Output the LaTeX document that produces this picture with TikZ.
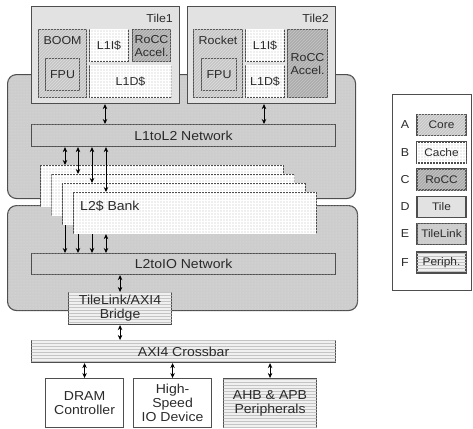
\documentclass[tikz,border=0pt]{standalone}
\usepackage{fontspec}
\setmainfont{Liberation Sans}[FakeStretch=1.08]
\usetikzlibrary{arrows.meta,patterns}

\definecolor{edge}{HTML}{4E4E4E}
\definecolor{txt}{HTML}{2B2B2B}
\definecolor{tilefill}{HTML}{E2E2E2}
\definecolor{corefill}{HTML}{C6C6C6}
\definecolor{corehatch}{HTML}{DEDEDE}
\definecolor{roccfill}{HTML}{ABABAB}
\definecolor{rocchatch}{HTML}{C8C8C8}
\definecolor{cachefill}{HTML}{EFEFEF}
\definecolor{tlfill}{HTML}{CDCDCD}
\definecolor{tldots}{HTML}{E2E2E2}
\definecolor{perfill}{HTML}{F0F0F0}
\definecolor{perlines}{HTML}{C4C4C4}

\tikzset{
  blk/.style={draw=edge, line width=1.1pt, inner sep=0pt, anchor=north west,
    text=txt, align=center, font=\fontsize{11.5}{13}\selectfont},
  big/.style={font=\fontsize{13}{14}\selectfont},
  tilebox/.style={blk, fill=tilefill},
  corebox/.style={blk, fill=corefill, postaction={pattern=north east lines, pattern color=corehatch}},
  roccbox/.style={blk, fill=roccfill, postaction={pattern=north east lines, pattern color=rocchatch}},
  cachebox/.style={blk, fill=cachefill, postaction={pattern=grid, pattern color=white}},
  tlbox/.style={blk, big, fill=tlfill, postaction={pattern=dots, pattern color=tldots}},
  region/.style={tlbox, rounded corners=9pt},
  perbox/.style={blk, big, fill=perfill, postaction={pattern=horizontal lines, pattern color=perlines}},
  plainbox/.style={blk, big, fill=white},
  lbl/.style={inner sep=0pt, text=txt, font=\fontsize{11.5}{13}\selectfont},
  link/.style={draw=black, line width=0.9pt, {Stealth[length=5pt,width=4.5pt]}-{Stealth[length=5pt,width=4.5pt]}},
  downlink/.style={draw=black, line width=0.9pt, -{Stealth[length=5pt,width=4.5pt]}},
  legbox/.style={draw=edge, line width=1.1pt, inner sep=0pt, minimum width=49, minimum height=21,
    text=txt, font=\fontsize{11}{12}\selectfont},
  legkey/.style={inner sep=0pt, text=txt, font=\fontsize{11.5}{13}\selectfont},
}

\begin{document}
\begin{tikzpicture}[x=1pt, y=-1pt]
\useasboundingbox (0,0) rectangle (473,428);

% TileLink domains
\node[region, minimum width=348, minimum height=124] (upper) at (7,74) {};
\node[region, minimum width=350, minimum height=105] (lower) at (7,205) {};

% tiles
\node[tilebox, minimum width=148, minimum height=97] (tile1) at (31,6) {};
\node[tilebox, minimum width=148, minimum height=97] (tile2) at (187,6) {};
\node[lbl, anchor=base east] at ([shift={(-7,16.5)}]tile1.north east) {Tile1};
\node[lbl, anchor=base east] at ([shift={(-7,16.5)}]tile2.north east) {Tile2};

% Tile1 contents
\node[corebox, minimum width=48, minimum height=68] (boom) at (38,29) {};
\node[lbl, anchor=base] at ([shift={(0,16)}]boom.north) {BOOM};
\node[corebox, minimum width=34, minimum height=32] (fpu1) at (45,58) {FPU};
\node[cachebox, minimum width=39, minimum height=32] (l1i1) at (89,29) {L1I\$};
\node[roccbox, minimum width=38, minimum height=32] (rocc1) at (132,29) {RoCC\\Accel.};
\node[cachebox, minimum width=82, minimum height=32] (l1d1) at (89,65) {L1D\$};

% Tile2 contents
\node[corebox, minimum width=49, minimum height=68] (rocket) at (193,29) {};
\node[lbl, anchor=base] at ([shift={(0,16)}]rocket.north) {Rocket};
\node[corebox, minimum width=35, minimum height=32] (fpu2) at (201,58) {FPU};
\node[cachebox, minimum width=39, minimum height=32] (l1i2) at (245,29) {L1I\$};
\node[cachebox, minimum width=39, minimum height=32] (l1d2) at (245,65) {L1D\$};
\node[roccbox, minimum width=40, minimum height=68] (rocc2) at (287,29) {RoCC\\Accel.};

% on-chip networks
\node[tlbox, minimum width=304, minimum height=22] (l1l2) at (31,124) {L1toL2 Network};
\node[tlbox, minimum width=304, minimum height=21] (l2io) at (31,253) {L2toIO Network};

% tiles to L1toL2
\coordinate (t1x) at (105,0);
\coordinate (t2x) at (264,0);
\draw[link] (t1x |- tile1.south) -- (t1x |- l1l2.north);
\draw[link] (t2x |- tile2.south) -- (t2x |- l1l2.north);

% banks to L2toIO (behind the bank stack)
\coordinate (c1) at (65,0);
\coordinate (c2) at (78,0);
\coordinate (c3) at (92,0);
\coordinate (c4) at (106,0);
\coordinate (b1y) at (0,207);
\coordinate (b2y) at (0,216);
\coordinate (b3y) at (0,225);
\draw[downlink] (c1 |- b1y) -- (c1 |- l2io.north);
\draw[downlink] (c2 |- b2y) -- (c2 |- l2io.north);
\draw[downlink] (c3 |- b3y) -- (c3 |- l2io.north);

% L2 cache banks
\node[cachebox, minimum width=243, minimum height=41] (bank1) at (40,165) {};
\node[cachebox, minimum width=243, minimum height=41] (bank2) at (51,174) {};
\node[cachebox, minimum width=243, minimum height=41] (bank3) at (62,183) {};
\node[cachebox, minimum width=243, minimum height=41] (bank4) at (73,192) {};
\node[lbl, big, anchor=base west] at (80,210) {L2\$ Bank};

\draw[link] (c4 |- bank4.south) -- (c4 |- l2io.north);
\draw[link] (c1 |- l1l2.south) -- (c1 |- bank1.north);
\draw[link] (c2 |- l1l2.south) -- (c2 |- bank2.north);
\draw[link] (c3 |- l1l2.south) -- (c3 |- bank3.north);
\draw[link] (c4 |- l1l2.south) -- (c4 |- bank4.north);

% bridge, crossbar and devices
\node[perbox, minimum width=103, minimum height=32] (bridge) at (68,292) {TileLink/AXI4\\Bridge};
\node[perbox, minimum width=304, minimum height=22] (xbar) at (31,340) {AXI4 Crossbar};
\node[plainbox, minimum width=78, minimum height=49] (dram) at (45,378) {DRAM\\Controller};
\node[plainbox, minimum width=78, minimum height=49] (hsio) at (133,378) {High-\\Speed\\IO Device};
\node[perbox, minimum width=93, minimum height=49] (ahb) at (223,378) {AHB \& APB\\Peripherals};

\draw[link] (bridge.north |- l2io.south) -- (bridge.north);
\draw[link] (bridge.south) -- (bridge.south |- xbar.north);
\draw[link] (dram.north |- xbar.south) -- (dram.north);
\draw[link] (hsio.north |- xbar.south) -- (hsio.north);
\draw[link] (ahb.north |- xbar.south) -- (ahb.north);

% legend
\node[draw=edge, line width=1.1pt, fill=white, inner sep=0pt, anchor=north west,
  minimum width=79, minimum height=196] (legend) at (392,94) {};
\node[legbox, fill=corefill, postaction={pattern=north east lines, pattern color=corehatch}] (kA) at (441.5,125) {Core};
\node[legbox, fill=cachefill, postaction={pattern=grid, pattern color=white}] (kB) at (441.5,152.5) {Cache};
\node[legbox, fill=roccfill, postaction={pattern=north east lines, pattern color=rocchatch}] (kC) at (441.5,179.5) {RoCC};
\node[legbox, fill=tilefill] (kD) at (441.5,207) {Tile};
\node[legbox, fill=tlfill, postaction={pattern=dots, pattern color=tldots}] (kE) at (441.5,234) {TileLink};
\node[legbox, fill=perfill, postaction={pattern=horizontal lines, pattern color=perlines}] (kF) at (441.5,262.5) {Periph.};
\node[legkey] at (405,125) {A};
\node[legkey] at (405,152.5) {B};
\node[legkey] at (405,179.5) {C};
\node[legkey] at (405,207) {D};
\node[legkey] at (405,234) {E};
\node[legkey] at (405,262.5) {F};
\end{tikzpicture}
\end{document}
